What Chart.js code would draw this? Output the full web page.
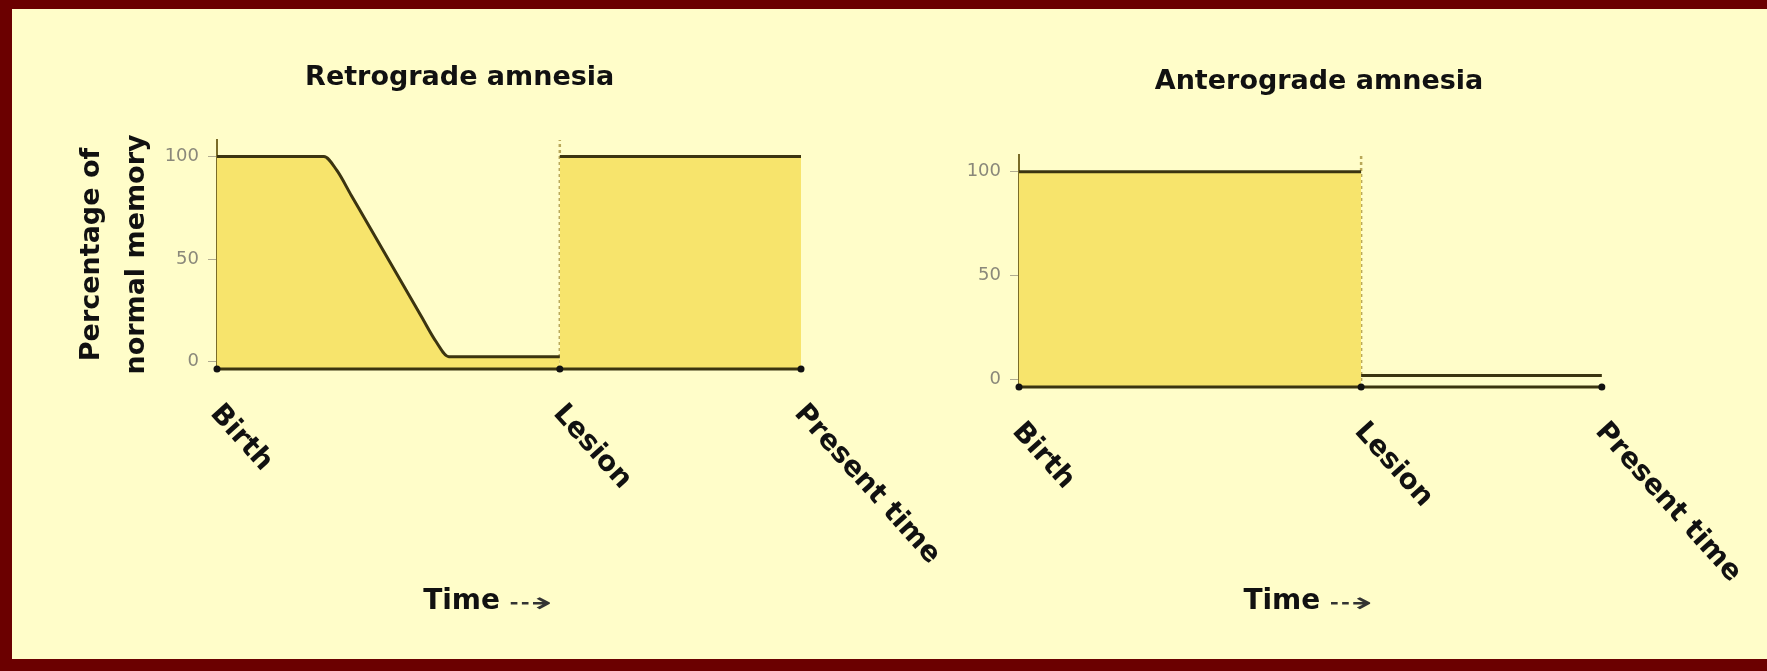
<!DOCTYPE html>
<html>
<head>
<meta charset="utf-8">
<title>Retrograde and anterograde amnesia</title>
<script src="https://cdn.jsdelivr.net/npm/chart.js@4.4.1/dist/chart.umd.min.js"></script>
<style>
  html, body { margin: 0; padding: 0; }
  #frame {
    position: fixed; left: 0; top: 0; width: 1767px; height: 671px;
    box-sizing: border-box;
    background: #fffdc9;
    border-top: 9px solid #6b0000;
    border-left: 12px solid #6b0000;
    border-bottom: 12px solid #6b0000;
  }
  .panel { position: fixed; top: 0; height: 671px; }
</style>
</head>
<body>
<div id="frame"></div>
<div class="panel" style="left:0;width:970px"><canvas id="retroChart"></canvas></div>
<div class="panel" style="left:900px;width:867px"><canvas id="anteroChart"></canvas></div>

<script>
// time axis: Birth = 0, Present time = 100
const xTickValues = [0, 58.7, 100];
const xTickLabels = ["Birth", "Lesion", "Present time"];
const yTickValues = [0, 50, 100];
const lesionX = 58.7;

// Retrograde amnesia (straight decline with rounded ends)
const retroBeforeX = [0, 18.3, 20.5, 23.0, 35.0, 37.5, 39.7, 58.7];
const retroBeforeY = [100, 100, 93.3, 81, 22.1, 9.9, 2.5, 2.5];
const retroAfterX = [58.7, 100];
const retroAfterY = [100, 100];

// Anterograde amnesia
const anteroBeforeX = [0, 58.7];
const anteroBeforeY = [100, 100];
const anteroAfterX = [58.7, 100];
const anteroAfterY = [2, 2];

const Y_MIN = -3.5;
const Y_MAX = 108;

const FILL = "#f7e46c";
const LINE = "#3b3410";
const FONT = "DejaVu Sans";

const pts = (xs, ys) => xs.map((x, i) => ({ x: x, y: ys[i] }));

// rotated time labels + "Time" caption under the axis
const axisTextPlugin = {
  id: "axisText",
  afterDraw(chart, args, opts) {
    const { ctx, chartArea, scales } = chart;
    ctx.save();
    ctx.fillStyle = "#111";
    ctx.textAlign = "left";
    ctx.textBaseline = "middle";
    ctx.font = "bold 28px '" + FONT + "'";
    xTickValues.forEach((v, i) => {
      const x = scales.x.getPixelForValue(v);
      ctx.save();
      ctx.translate(x - 2, chartArea.bottom + 40);
      ctx.rotate((48 * Math.PI) / 180);
      ctx.fillText(xTickLabels[i], 0, 0);
      ctx.restore();
    });
    const tx = scales.x.getPixelForValue(opts.timeAt);
    ctx.font = "bold 28px '" + FONT + "'";
    ctx.fillText("Time", tx, opts.timeY);
    const w = ctx.measureText("Time ").width;
    // dashed arrow, stretched a bit like the original
    ctx.save();
    ctx.translate(tx + w - 2, opts.timeY + 3);
    ctx.scale(1.9, 1);
    ctx.fillStyle = "#333";
    ctx.font = "28px '" + FONT + "'";
    ctx.fillText("\u21E2", 0, 0);
    ctx.restore();
    ctx.restore();
  },
};

function buildDatasets(beforePts, beforeFill, afterPts, afterFill) {
  return [
    {
      // time axis with its three markers
      data: pts(xTickValues, xTickValues.map(() => Y_MIN)),
      borderColor: LINE,
      borderWidth: 3,
      pointRadius: 3.5,
      pointBackgroundColor: "#111",
      pointBorderWidth: 0,
      clip: false,
      fill: false,
    },
    {
      data: beforePts,
      borderColor: LINE,
      borderWidth: 3,
      backgroundColor: FILL,
      fill: beforeFill ? "start" : false,
      pointRadius: 0,
      cubicInterpolationMode: "monotone",
    },
    {
      data: afterPts,
      borderColor: LINE,
      borderWidth: 3,
      backgroundColor: FILL,
      fill: afterFill ? "start" : false,
      pointRadius: 0,
    },
    {
      // lesion marker
      data: pts([lesionX, lesionX], [Y_MIN, Y_MAX]),
      borderColor: "#b9a85a",
      borderWidth: 2.5,
      borderDash: [3, 3],
      pointRadius: 0,
      fill: false,
    },
  ];
}

function buildOptions(cfg) {
  return {
    responsive: true,
    maintainAspectRatio: false,
    devicePixelRatio: 1,
    animation: false,
    layout: { padding: { left: cfg.padLeft, right: cfg.padRight, top: 0, bottom: 0 } },
    plugins: {
      legend: { display: false },
      tooltip: { enabled: false },
      title: {
        display: true,
        text: cfg.title,
        color: "#111",
        font: { family: FONT, weight: "bold", size: 27 },
        padding: { top: cfg.titleTop, bottom: cfg.titleBottom },
      },
      axisText: { timeAt: cfg.timeAt, timeY: cfg.timeY },
    },
    scales: {
      x: {
        type: "linear",
        min: 0,
        max: cfg.xMax,
        grid: { display: false },
        border: { display: false },
        ticks: { display: false },
        afterBuildTicks: (scale) => {
          scale.ticks = xTickValues.map((v) => ({ value: v }));
        },
        afterFit: (scale) => {
          scale.height = cfg.xAxisHeight;
        },
      },
      y: {
        min: Y_MIN,
        max: Y_MAX,
        z: 1,
        grid: {
          drawOnChartArea: false,
          color: "#b0ab90",
          tickLength: 9,
        },
        border: { display: true, color: "#7a6c28", width: 2 },
        ticks: {
          color: "#8a887a",
          padding: 9,
          font: { family: FONT, size: 18 },
        },
        afterBuildTicks: (scale) => {
          scale.ticks = yTickValues.map((v) => ({ value: v }));
        },
        afterFit: (scale) => {
          scale.width = cfg.yAxisWidth;
        },
        title: {
          display: !!cfg.yTitle,
          text: cfg.yTitle || "",
          color: "#111",
          font: { family: FONT, weight: "bold", size: 27, lineHeight: 1.667 },
          padding: { top: 9.5, bottom: 0 },
        },
      },
    },
  };
}

new Chart(document.getElementById("retroChart"), {
  type: "line",
  data: {
    datasets: buildDatasets(
      pts(retroBeforeX, retroBeforeY), true,
      pts(retroAfterX, retroAfterY), true
    ),
  },
  options: buildOptions({
    title: "Retrograde amnesia",
    titleTop: 62,
    titleBottom: 45.6,
    padLeft: 60,
    padRight: 110.6,
    yAxisWidth: 157,
    xAxisHeight: 302,
    xMax: 110,
    yTitle: ["Percentage of", "normal memory"],
    timeAt: 35.3,
    timeY: 602,
  }),
  plugins: [axisTextPlugin],
});

new Chart(document.getElementById("anteroChart"), {
  type: "line",
  data: {
    datasets: buildDatasets(
      pts(anteroBeforeX, anteroBeforeY), true,
      pts(anteroAfterX, anteroAfterY), false
    ),
  },
  options: buildOptions({
    title: "Anterograde amnesia",
    titleTop: 65.8,
    titleBottom: 56.8,
    padLeft: 40,
    padRight: 69,
    yAxisWidth: 79,
    xAxisHeight: 284,
    xMax: 116.5,
    yTitle: null,
    timeAt: 38.5,
    timeY: 602,
  }),
  plugins: [axisTextPlugin],
});
</script>
</body>
</html>
